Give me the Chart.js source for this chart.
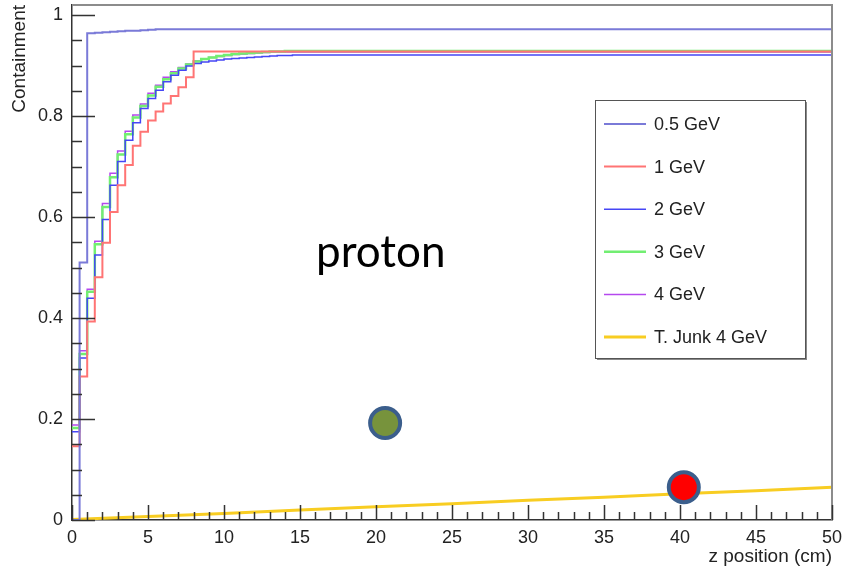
<!DOCTYPE html>
<html>
<head>
<meta charset="utf-8">
<title>Containment vs z position - proton</title>
<script src="https://cdn.jsdelivr.net/npm/chart.js@4.4.1/dist/chart.umd.min.js"></script>
<style>
  html, body { margin: 0; padding: 0; background: #fff; overflow: hidden; }
  #wrap { position: relative; width: 844px; height: 570px; overflow: hidden; }
  #chart { position: absolute; left: 0; top: 0; }
  .note { position: absolute; font-family: Lato, 'Open Sans', sans-serif; color: #000; white-space: nowrap; line-height: 1; }
</style>
</head>
<body>
<div id="wrap">
  <canvas id="chart" width="844" height="570"></canvas>
  <div class="note" id="proton" style="left:316px; top:228px; font-size:44px;">proton</div>
</div>
<script>
/* Histogram bin lower edges (cm), last entry closes the final flat step */
const zEdges = [0, 0.5, 1, 1.5, 2, 2.5, 3, 3.5, 4, 4.5, 5, 5.5, 6, 6.5, 7, 7.5,
  8, 8.5, 9, 9.5, 10, 10.5, 11, 11.5, 12, 12.5, 13, 13.5, 14, 14.5, 15, 15.5, 50];

const gev05 = [0, 0.51, 0.964, 0.965, 0.966, 0.967, 0.968, 0.969, 0.969, 0.970, 0.971, 0.972,
  0.972, 0.972, 0.972, 0.972, 0.972, 0.972, 0.972, 0.972, 0.972, 0.972, 0.972, 0.972,
  0.972, 0.972, 0.972, 0.972, 0.972, 0.972, 0.972, 0.972, 0.972];
const gev1 = [0.146, 0.284, 0.393, 0.481, 0.549, 0.610, 0.663, 0.703, 0.741, 0.769, 0.791, 0.809,
  0.825, 0.840, 0.857, 0.877, 0.928, 0.928, 0.928, 0.928, 0.928, 0.928, 0.928, 0.928,
  0.928, 0.928, 0.928, 0.928, 0.928, 0.928, 0.928, 0.928, 0.928];
const gev2 = [0.175, 0.321, 0.439, 0.525, 0.595, 0.663, 0.710, 0.752, 0.787, 0.815, 0.835, 0.851,
  0.868, 0.881, 0.891, 0.899, 0.904, 0.907, 0.909, 0.911, 0.913, 0.914, 0.915, 0.916,
  0.917, 0.918, 0.919, 0.920, 0.920, 0.921, 0.921, 0.921, 0.921];
const gev3 = [0.182, 0.329, 0.452, 0.546, 0.620, 0.679, 0.724, 0.764, 0.797, 0.820, 0.841, 0.858,
  0.873, 0.885, 0.894, 0.902, 0.908, 0.913, 0.916, 0.919, 0.921, 0.923, 0.924, 0.925,
  0.926, 0.927, 0.928, 0.928, 0.929, 0.929, 0.929, 0.929, 0.929];
const gev4 = [0.188, 0.335, 0.457, 0.552, 0.627, 0.687, 0.731, 0.770, 0.802, 0.824, 0.845, 0.861,
  0.877, 0.888, 0.896, 0.903, 0.909, 0.913, 0.916, 0.918, 0.920, 0.922, 0.923, 0.924,
  0.925, 0.926, 0.927, 0.927, 0.927, 0.927, 0.927, 0.927, 0.927];

/* T. Junk 4 GeV curve */
const junkZ = [0, 5, 10, 15, 20, 25, 30, 35, 40, 45, 50];
const junk4 = [0.001, 0.007, 0.013, 0.020, 0.026, 0.032, 0.039, 0.045, 0.052, 0.058, 0.065];

/* annotation dots put on the slide */
const markerZ = [20.6, 40.25];
const markerY = [0.192, 0.065];
const markerFill = ['#77933c', '#ff0000'];

const seriesLabels = ['0.5 GeV', '1 GeV', '2 GeV', '3 GeV', '4 GeV', 'T. Junk 4 GeV'];
const seriesColors = ['#7a7ad8', '#ff7474', '#4646f5', '#72ee72', '#b548ee', '#f8cd22'];
const seriesWidths = [2, 2, 1.5, 2.5, 1.5, 3];

const yTickLabels = ['0', '0.2', '0.4', '0.6', '0.8', '1'];

const AXIS_FONT = "'Liberation Sans', Arial, Helvetica, sans-serif";

const toPoints = (xs, ys) => xs.map((x, i) => ({ x, y: ys[i] }));

function histSet(idx, values) {
  return {
    label: seriesLabels[idx],
    data: toPoints(zEdges, values),
    showLine: true,
    stepped: true,
    borderColor: seriesColors[idx],
    borderWidth: seriesWidths[idx],
    pointRadius: 0,
    inLegend: true,
  };
}

/* ROOT-style frame: inner tick marks + grey top/right edges, plus the boxed legend */
const rootFrame = {
  id: 'rootFrame',
  afterDatasetsDraw(chart) {
    const { ctx, chartArea: a, scales: { x, y } } = chart;
    ctx.save();
    ctx.strokeStyle = '#8c8c8c';
    ctx.lineWidth = 2;
    ctx.beginPath();
    ctx.moveTo(a.left, a.top);
    ctx.lineTo(a.right, a.top);
    ctx.lineTo(a.right, a.bottom);
    ctx.stroke();

    ctx.strokeStyle = '#333';
    ctx.lineWidth = 1.5;
    ctx.beginPath();
    for (let k = 0; k <= 20; k++) {
      const py = Math.round(y.getPixelForValue(k * 0.05)) + 0.5;
      const len = k % 4 === 0 ? 23 : 10;
      ctx.moveTo(a.left, py);
      ctx.lineTo(a.left + len, py);
    }
    for (let k = 0; k <= 50; k++) {
      const px = Math.round(x.getPixelForValue(k)) + 0.5;
      const len = k % 5 === 0 ? 15 : 8;
      ctx.moveTo(px, a.bottom);
      ctx.lineTo(px, a.bottom - len);
    }
    ctx.stroke();
    ctx.restore();
  },
  afterDraw(chart) {
    const { ctx, chartArea: a } = chart;
    const sets = chart.data.datasets.filter(d => d.inLegend);
    const bx = a.right - 237, by = a.top + 95, bw = 210, bh = 258;
    ctx.save();
    ctx.fillStyle = '#8a8a8a';
    ctx.fillRect(bx + 2, by + 2, bw, bh);
    ctx.fillStyle = '#fff';
    ctx.fillRect(bx, by, bw, bh);
    ctx.strokeStyle = '#555';
    ctx.lineWidth = 1;
    ctx.strokeRect(bx + 0.5, by + 0.5, bw, bh);

    ctx.font = '18px ' + AXIS_FONT;
    ctx.textBaseline = 'middle';
    ctx.fillStyle = '#222';
    sets.forEach((d, i) => {
      const ry = by + 24 + i * 42.6;
      ctx.strokeStyle = d.borderColor;
      ctx.lineWidth = d.borderWidth;
      ctx.beginPath();
      ctx.moveTo(bx + 9, ry);
      ctx.lineTo(bx + 51, ry);
      ctx.stroke();
      ctx.fillText(d.label, bx + 59, ry + 1);
    });
    ctx.restore();
  }
};

new Chart(document.getElementById('chart'), {
  type: 'scatter',
  data: {
    datasets: [
      {
        label: 'markers',
        data: toPoints(markerZ, markerY),
        showLine: false,
        pointRadius: 15,
        pointHoverRadius: 15,
        pointBorderWidth: 4,
        pointBackgroundColor: markerFill,
        pointBorderColor: '#3b5e8c',
      },
      histSet(0, gev05),
      histSet(1, gev1),
      histSet(2, gev2),
      histSet(3, gev3),
      histSet(4, gev4),
      {
        label: seriesLabels[5],
        data: toPoints(junkZ, junk4),
        showLine: true,
        borderColor: seriesColors[5],
        borderWidth: seriesWidths[5],
        pointRadius: 0,
        inLegend: true,
      },
    ],
  },
  options: {
    responsive: false,
    devicePixelRatio: 1,
    animation: false,
    events: [],
    layout: { autoPadding: false, padding: { top: 5, right: 12, left: 0, bottom: 0 } },
    plugins: { legend: { display: false }, tooltip: { enabled: false } },
    scales: {
      x: {
        type: 'linear',
        min: 0,
        max: 50,
        afterFit(s) { s.height = 50; s.paddingLeft = 0; s.paddingRight = 0; },
        grid: { display: false, drawTicks: false },
        border: { display: true, color: '#333', width: 1.5 },
        ticks: {
          stepSize: 5,
          includeBounds: false,
          padding: 7,
          maxRotation: 0,
          color: '#222',
          font: { family: AXIS_FONT, size: 18 },
        },
        title: {
          display: true,
          text: 'z position (cm)',
          align: 'end',
          color: '#222',
          font: { family: AXIS_FONT, size: 19 },
          padding: { top: 0, bottom: 2 },
        },
      },
      y: {
        type: 'linear',
        min: 0,
        max: 1.02,
        afterFit(s) { s.width = 72; s.paddingTop = 0; s.paddingBottom = 0; },
        grid: { display: false, drawTicks: false },
        border: { display: true, color: '#333', width: 1.5 },
        ticks: {
          stepSize: 0.2,
          includeBounds: false,
          padding: 9,
          color: '#222',
          font: { family: AXIS_FONT, size: 18 },
          callback: (v) => yTickLabels[Math.round(v / 0.2)] ?? '',
        },
        title: {
          display: true,
          text: 'Containment',
          align: 'end',
          color: '#222',
          font: { family: AXIS_FONT, size: 19 },
          padding: { top: 8, bottom: 0 },
        },
      },
    },
  },
  plugins: [rootFrame],
});
</script>
</body>
</html>
